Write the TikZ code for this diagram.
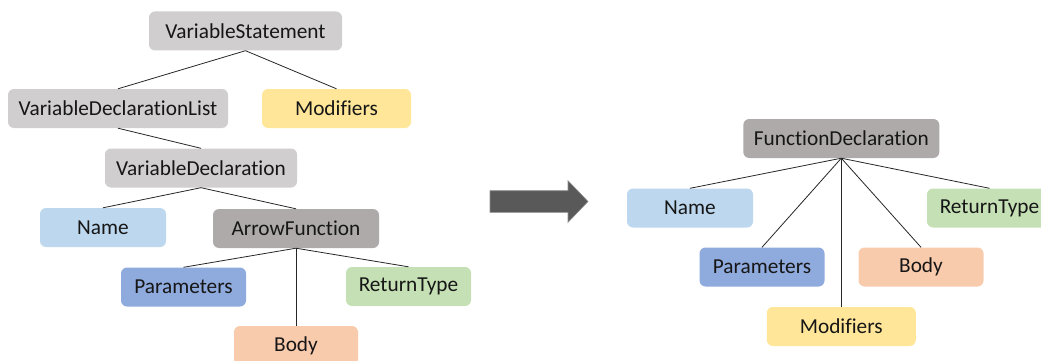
\documentclass[tikz,border=0pt]{standalone}
\usepackage{fontspec}
\setmainfont{Carlito}[Ligatures={NoCommon}]
\definecolor{grayA}{HTML}{D0CECE}
\definecolor{grayB}{HTML}{AEAAAA}
\definecolor{nameC}{HTML}{BDD7EE}
\definecolor{paramC}{HTML}{8FAADC}
\definecolor{retC}{HTML}{C5E0B4}
\definecolor{bodyC}{HTML}{F8CBAD}
\definecolor{modC}{HTML}{FFE699}
\definecolor{arrowC}{HTML}{595959}
\definecolor{txtC}{HTML}{161616}
\begin{document}
\begin{tikzpicture}[x=1pt,y=-1pt,
  box/.style={rounded corners=6pt, minimum height=39pt, inner sep=0pt,
    text=txtC, font=\fontsize{21.3}{24}\selectfont},
  edge/.style={draw=black!85, line width=0.8pt}]
\useasboundingbox (0,0) rectangle (1041,361);
% left tree
\node[box, fill=grayA, minimum width=193pt] (vs) at (245.5,31) {VariableStatement};
\node[box, fill=grayA, minimum width=220pt] (vdl) at (118,108.5) {VariableDeclarationList};
\node[box, fill=modC, minimum width=149pt] (mod1) at (336.5,108.5) {Modifiers};
\node[box, fill=grayA, minimum width=192pt] (vd) at (201,168) {VariableDeclaration};
\node[box, fill=nameC, minimum width=126pt] (name1) at (103,227.5) {Name};
\node[box, fill=grayB, minimum width=166pt] (af) at (296,228.5) {ArrowFunction};
\node[box, fill=paramC, minimum width=125pt] (par1) at (183.5,287) {Parameters};
\node[box, fill=retC, minimum width=125pt] (ret1) at (408.5,286.5) {ReturnType};
\node[box, fill=bodyC, minimum width=124pt] (body1) at (296,345.5) {Body};
\draw[edge] (vs.south) -- (vdl.north);
\draw[edge] (vs.south) -- (mod1.north);
\draw[edge] (vdl.south) -- (vd.north);
\draw[edge] (vd.south) -- (name1.north);
\draw[edge] (vd.south) -- (af.north);
\draw[edge] (af.south) -- (par1.north);
\draw[edge] (af.south) -- (ret1.north);
\draw[edge] (af.south) -- (body1.north);
% transformation arrow
\fill[arrowC, draw=black!45, line width=0.6pt]
  (490,190.7) -- (568,190.7) -- (568,180.7) -- (588,201.5)
  -- (568,222.3) -- (568,212.3) -- (490,212.3) -- cycle;
% right tree
\node[box, fill=grayB, minimum width=196pt] (fd) at (841.3,138.5) {FunctionDeclaration};
\node[box, fill=nameC, minimum width=126pt] (name2) at (690,208) {Name};
\node[box, fill=paramC, minimum width=125pt] (par2) at (762,267) {Parameters};
\node[box, fill=bodyC, minimum width=125pt] (body2) at (921,267) {Body};
\node[box, fill=retC, minimum width=125pt] (ret2) at (989.5,208) {ReturnType};
\node[box, fill=modC, minimum width=149pt] (mod2) at (841.3,326.5) {Modifiers};
\draw[edge] (fd.south) -- (name2.north);
\draw[edge] (fd.south) -- (par2.north);
\draw[edge] (fd.south) -- (mod2.north);
\draw[edge] (fd.south) -- (body2.north);
\draw[edge] (fd.south) -- (ret2.north);
\end{tikzpicture}
\end{document}
